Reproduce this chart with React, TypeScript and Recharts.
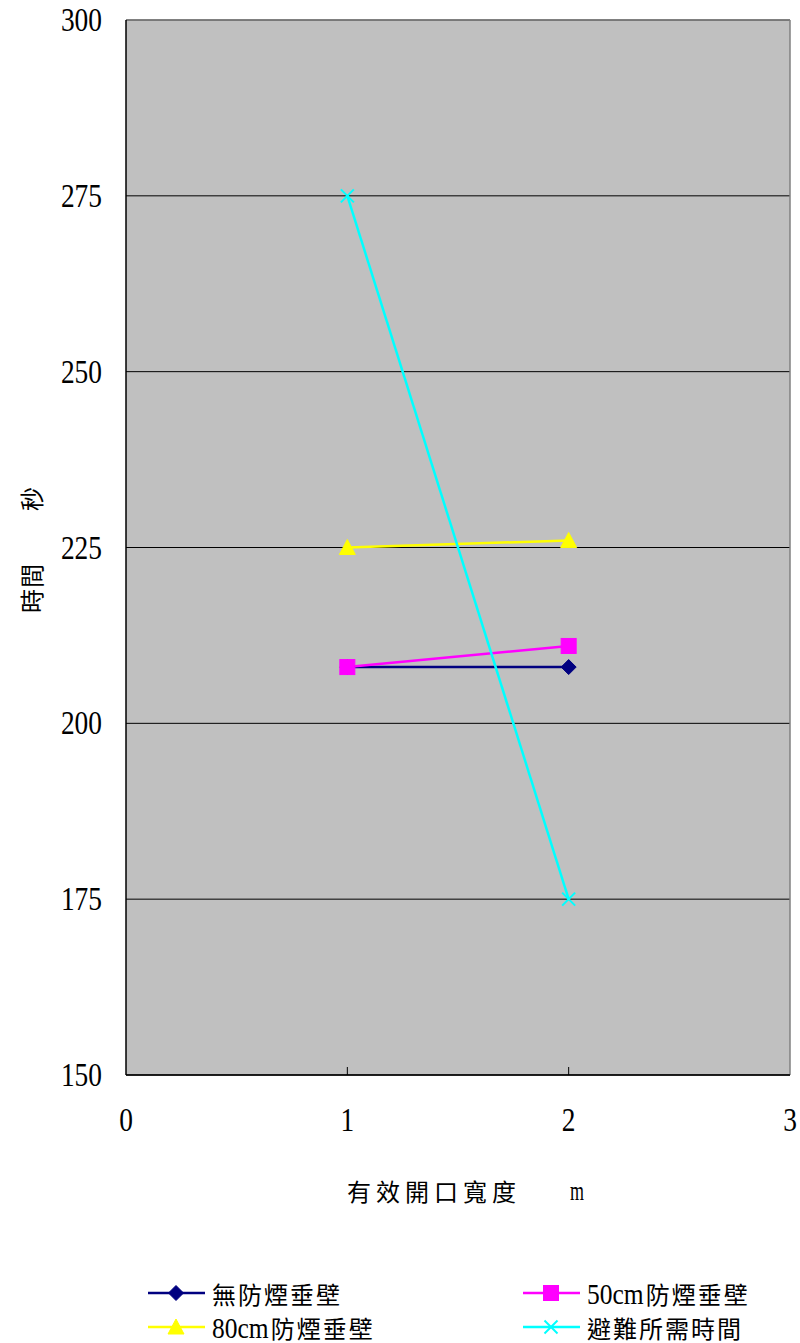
import React from 'react';
import { LineChart, Line, XAxis, YAxis, CartesianGrid, ReferenceLine } from 'recharts';

const xValues = [1, 2];
const noWall = [208, 208];
const wall50 = [208, 211];
const wall80 = [225, 226];
const evacTime = [275, 175];

const xTicks = [0, 1, 2, 3];
const yTicks = [150, 175, 200, 225, 250, 275, 300];

const seriesNames = ['無防煙垂壁', '50cm防煙垂壁', '80cm防煙垂壁', '避難所需時間'];
const seriesColors = ['#000080', '#FF00FF', '#FFFF00', '#00FFFF'];
const seriesValues = [noWall, wall50, wall80, evacTime];
const seriesShapes = ['diamond', 'square', 'triangle', 'cross'];

const NUM_FONT = '"Liberation Serif", "DejaVu Serif", serif';
const CJK_FONT = '"Noto Sans CJK TC", sans-serif';

function Marker({ shape, cx, cy, color }: { shape: string; cx: number; cy: number; color: string }) {
  if (shape === 'diamond') {
    const r = 7.5;
    return <polygon points={`${cx},${cy - r} ${cx + r},${cy} ${cx},${cy + r} ${cx - r},${cy}`} fill={color} stroke={color} />;
  }
  if (shape === 'square') {
    const r = 7.5;
    return <rect x={cx - r} y={cy - r} width={2 * r} height={2 * r} fill={color} stroke={color} />;
  }
  if (shape === 'triangle') {
    const r = 8;
    return <polygon points={`${cx},${cy - r} ${cx + r},${cy + r - 1} ${cx - r},${cy + r - 1}`} fill={color} stroke={color} />;
  }
  const r = 6.5;
  return (
    <g stroke={color} strokeWidth={2}>
      <line x1={cx - r} y1={cy - r} x2={cx + r} y2={cy + r} />
      <line x1={cx - r} y1={cy + r} x2={cx + r} y2={cy - r} />
    </g>
  );
}

function YTick(props: any) {
  const { y, payload } = props;
  const s = String(payload.value);
  return (
    <text x={102} y={y} dy={11} textAnchor="end" fontFamily={NUM_FONT} fontSize={33} fill="#000"
      textLength={s.length * 13.7} lengthAdjust="spacingAndGlyphs">
      {s}
    </text>
  );
}

function XTick(props: any) {
  const { x, payload } = props;
  const s = String(payload.value);
  const inner = payload.value !== 0 && payload.value !== 3;
  return (
    <g>
      {inner && <line x1={x} y1={1075} x2={x} y2={1067} stroke="#000" strokeWidth={1} />}
      <text x={x} y={1131} textAnchor="middle" fontFamily={NUM_FONT} fontSize={33} fill="#000"
        textLength={13.7} lengthAdjust="spacingAndGlyphs">
        {s}
      </text>
    </g>
  );
}

function XLabel() {
  return (
    <g>
      <text x={347} y={1201} fontFamily={CJK_FONT} fontSize={24} letterSpacing={5} fill="#000">有效開口寬度</text>
      <text x={577} y={1200} textAnchor="middle" fontFamily={NUM_FONT} fontSize={28} fill="#000"
        textLength={14} lengthAdjust="spacingAndGlyphs">m</text>
    </g>
  );
}

function YLabel() {
  return (
    <g>
      <text x={0} y={0} transform="translate(41,588) rotate(-90)" textAnchor="middle" fontFamily={CJK_FONT} fontSize={24} letterSpacing={1} fill="#000">時間</text>
      <text x={0} y={0} transform="translate(41,499) rotate(-90)" textAnchor="middle" fontFamily={CJK_FONT} fontSize={24} fill="#000">秒</text>
    </g>
  );
}

function LegendLabel({ text }: { text: string }) {
  const m = text.match(/^([0-9a-z]+)(.*)$/);
  const cjk = { fontFamily: CJK_FONT, fontSize: 24, letterSpacing: 2 } as React.CSSProperties;
  if (!m) return <span style={cjk}>{text}</span>;
  return (
    <span>
      <span style={{ fontFamily: NUM_FONT, fontSize: 30, display: 'inline-block', transform: 'scaleX(0.85)', transformOrigin: 'left center', marginRight: -8 }}>{m[1]}</span>
      <span style={cjk}>{m[2]}</span>
    </span>
  );
}

function LegendItem({ i }: { i: number }) {
  return (
    <div style={{ display: 'flex', alignItems: 'center', height: 34, color: '#000' }}>
      <svg width={64} height={24} style={{ display: 'block' }}>
        <line x1={0} y1={12} x2={57} y2={12} stroke={seriesColors[i]} strokeWidth={2.5} />
        <Marker shape={seriesShapes[i]} cx={28} cy={12} color={seriesColors[i]} />
      </svg>
      <LegendLabel text={seriesNames[i]} />
    </div>
  );
}

export default function App() {
  const datasets = seriesValues.map((vals) => xValues.map((x, i) => ({ x, y: vals[i] })));
  return (
    <div style={{ position: 'absolute', left: 0, top: 0, width: 800, height: 1343, background: '#fff' }}>
      <LineChart width={800} height={1343} margin={{ top: 20, right: 10, left: 0, bottom: 208 }}>
        <CartesianGrid vertical={false} horizontal={true} stroke="#000" strokeWidth={1} fill="#C0C0C0" fillOpacity={1} horizontalValues={yTicks} />
        <XAxis dataKey="x" type="number" domain={[0, 3]} ticks={xTicks} interval={0} height={60}
          axisLine={{ stroke: '#000', strokeWidth: 1.5 }} tickLine={false} tickSize={0} tick={<XTick />} label={<XLabel />} allowDuplicatedCategory={false} />
        <YAxis type="number" domain={[150, 300]} ticks={yTicks} interval={0} width={126}
          axisLine={{ stroke: '#000', strokeWidth: 1.5 }} tickLine={false} tick={<YTick />} label={<YLabel />} />
        <ReferenceLine y={300} stroke="#808080" strokeWidth={1.5} />
        <ReferenceLine x={3} stroke="#808080" strokeWidth={1.5} />
        {datasets.map((d, i) => (
          <Line key={seriesNames[i]} data={d} dataKey="y" name={seriesNames[i]} type="linear"
            stroke={seriesColors[i]} strokeWidth={2.5} isAnimationActive={false}
            dot={(p: any) => <Marker key={`${i}-${p.index}`} shape={seriesShapes[i]} cx={p.cx} cy={p.cy} color={seriesColors[i]} />}
            activeDot={false} />
        ))}
      </LineChart>
      <div style={{ position: 'absolute', left: 148, top: 1276, display: 'grid', gridTemplateColumns: '375px 270px' }}>
        <LegendItem i={0} />
        <LegendItem i={1} />
        <LegendItem i={2} />
        <LegendItem i={3} />
      </div>
    </div>
  );
}
